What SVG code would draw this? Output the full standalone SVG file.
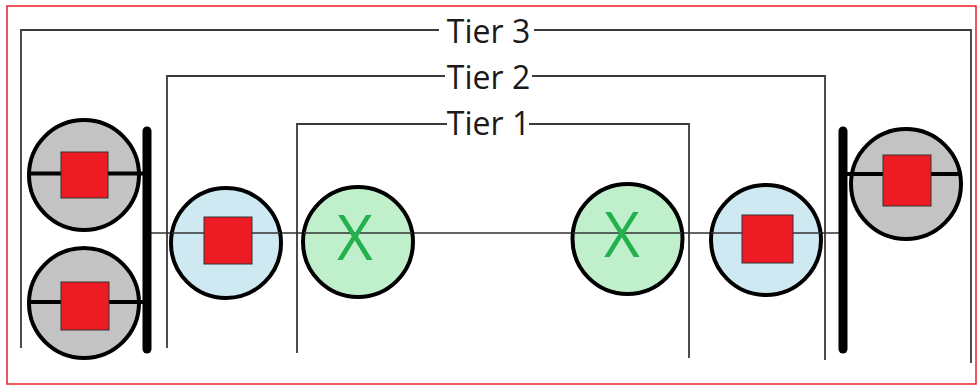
<svg xmlns="http://www.w3.org/2000/svg" width="978" height="386" viewBox="0 0 978 386">
<style>
.br{fill:none;stroke:#3a3a3a;stroke-width:1.8}
.lbl{font-family:"Open Sans","Liberation Sans",sans-serif;font-size:32px;fill:#1a1a1a;text-anchor:middle}
.c{stroke:#000;stroke-width:4}
.gray{fill:#C3C3C3}
.blue{fill:#CFE9F2}
.green{fill:#C0EFCB}
.sq{fill:#ED1C24;stroke:#333;stroke-width:1}
.arm{stroke:#000;stroke-width:4}
.thin{stroke:#333;stroke-width:1.5}
.bar{stroke:#000;stroke-width:9;stroke-linecap:round}
.x{font-family:"Open Sans","Liberation Sans",sans-serif;font-size:62px;fill:#22B14C;text-anchor:middle}
</style>
<rect x="7" y="6" width="969" height="378" fill="#fff" stroke="#ED1C24" stroke-width="1.5"/>
<g id="tier3">
<polyline class="br" points="21,348 21,30 439,30"/>
<polyline class="br" points="534,30 971,30 971,363"/>
<text class="lbl" x="488.5" y="43">Tier 3</text>
</g>
<g id="tier2">
<polyline class="br" points="167,348 167,76 445,76"/>
<polyline class="br" points="532,76 825,76 825,360"/>
<text class="lbl" x="488.5" y="89">Tier 2</text>
</g>
<g id="tier1">
<polyline class="br" points="297,353 297,124 447,124"/>
<polyline class="br" points="529,124 689,124 689,358"/>
<text class="lbl" x="488.5" y="135">Tier 1</text>
</g>
<g id="connectors">
<line class="thin" x1="151" y1="233" x2="839" y2="233"/>
</g>
<g id="bar-left"><line class="bar" x1="147" y1="131" x2="147" y2="349"/></g>
<g id="bar-right"><line class="bar" x1="843" y1="131" x2="843" y2="349"/></g>
<g id="gray-left-top">
<circle class="c gray" cx="84" cy="175" r="55"/>
<line class="arm" x1="29" y1="173.5" x2="147" y2="173.5"/>
<rect class="sq" x="61" y="152" width="47" height="46"/>
</g>
<g id="gray-left-bottom">
<circle class="c gray" cx="84" cy="303" r="55"/>
<line class="arm" x1="29" y1="302" x2="147" y2="302"/>
<rect class="sq" x="61" y="282" width="48" height="48"/>
</g>
<g id="blue-left">
<circle class="c blue" cx="226" cy="243" r="55"/>
<line class="thin" x1="172" y1="233" x2="280" y2="233"/>
<rect class="sq" x="204" y="217" width="48" height="47"/>
</g>
<g id="green-left">
<circle class="c green" cx="358" cy="242" r="55"/>
<line class="thin" x1="304" y1="233" x2="412" y2="233"/>
<text class="x" x="355" y="260">X</text>
</g>
<g id="green-right">
<circle class="c green" cx="627.5" cy="239" r="55"/>
<line class="thin" x1="573" y1="233" x2="682" y2="233"/>
<text class="x" x="622" y="257">X</text>
</g>
<g id="blue-right">
<circle class="c blue" cx="766" cy="240" r="55"/>
<line class="thin" x1="711" y1="233" x2="821" y2="233"/>
<rect class="sq" x="742" y="215" width="51" height="48"/>
</g>
<g id="gray-right">
<circle class="c gray" cx="906" cy="184" r="55"/>
<line class="arm" x1="843" y1="174" x2="961" y2="174"/>
<rect class="sq" x="883" y="155" width="48" height="51"/>
</g>
</svg>
